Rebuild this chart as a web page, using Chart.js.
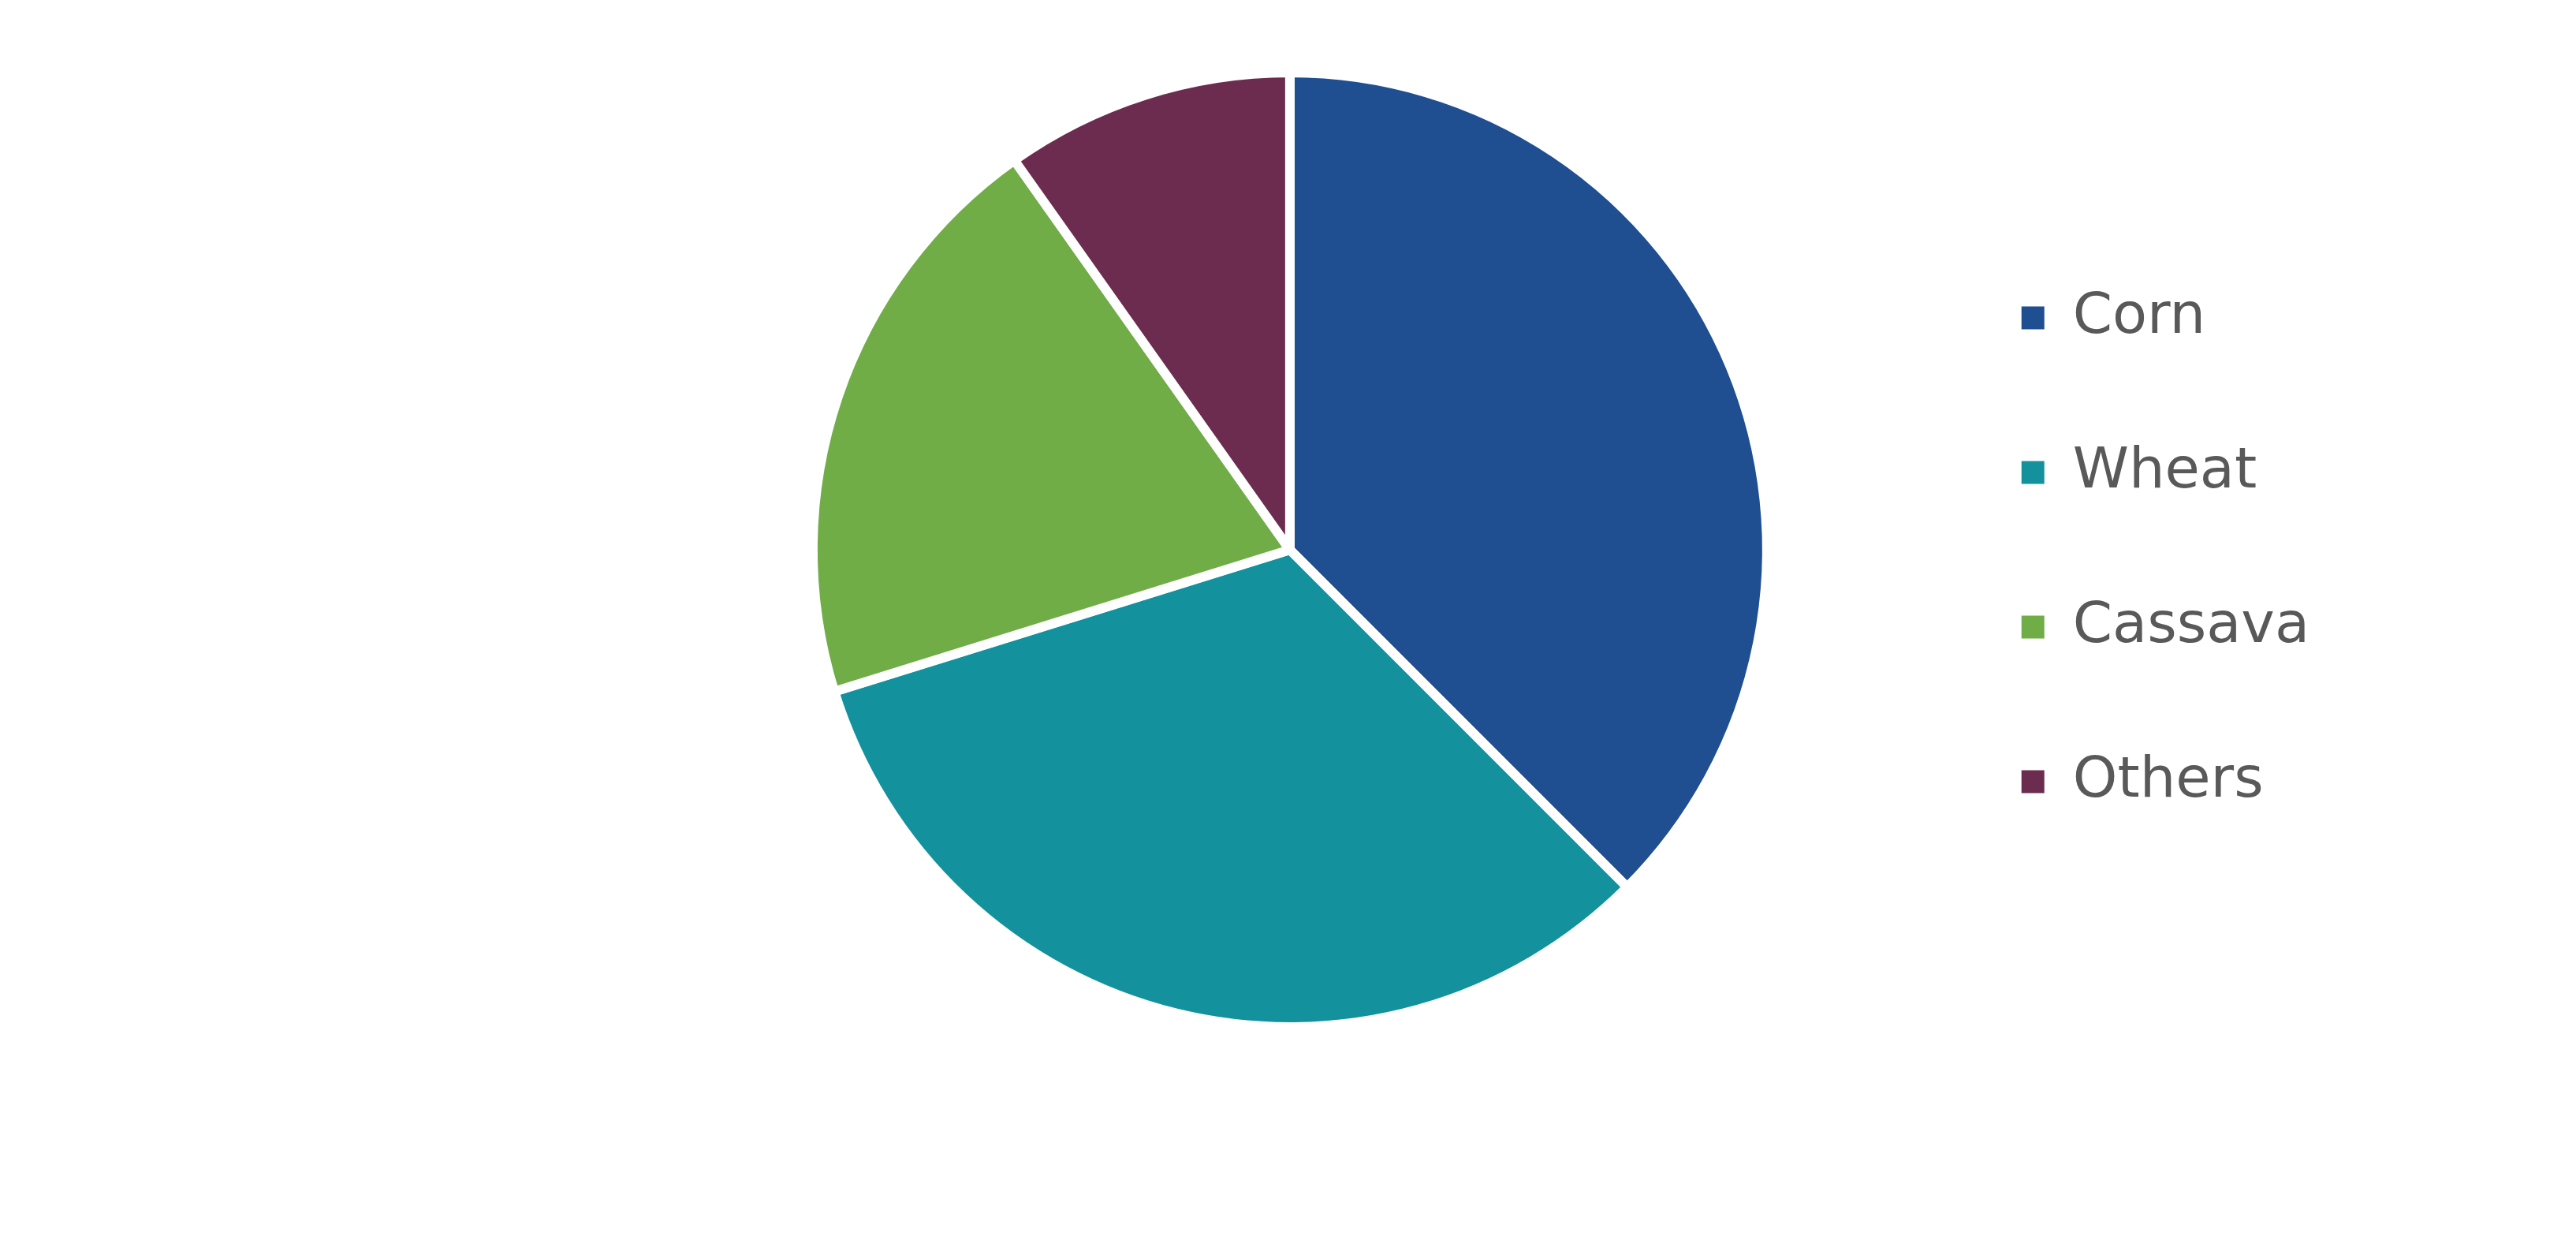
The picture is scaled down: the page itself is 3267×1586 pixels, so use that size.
<!DOCTYPE html>
<html>
<head>
<meta charset="utf-8">
<script src="https://cdn.jsdelivr.net/npm/chart.js@4/dist/chart.umd.min.js"></script>
<style>
  html, body { margin: 0; padding: 0; background: #fff; }
  #wrap { width: 3267px; height: 1586px; }
</style>
</head>
<body>
<div id="wrap"><canvas id="cropChart"></canvas></div>
<script>
const labels = ['Corn', 'Wheat', 'Cassava', 'Others'];
const shares = [37.5, 32.7, 20.0, 9.8];
const colors = ['#1F4E91', '#13929E', '#70AD47', '#6B2C4F'];

function pieChart() {
  const canvas = document.getElementById('cropChart');

  const data = {
    labels: labels,
    datasets: [{
      data: shares,
      backgroundColor: colors,
      borderColor: '#ffffff',
      borderWidth: 12
    }]
  };

  const config = {
    type: 'pie',
    data: data,
    options: {
      responsive: true,
      maintainAspectRatio: false,
      animation: false,
      layout: {
        padding: { top: 86, bottom: 278, left: 832, right: 328 }
      },
      plugins: {
        legend: {
          display: true,
          position: 'right',
          align: 'center',
          labels: {
            boxWidth: 29,
            boxHeight: 29,
            padding: 124,
            color: '#595959',
            font: { family: 'DejaVu Sans', size: 72 },
            generateLabels: function (chart) {
              // keep the white slice border off the legend squares
              const items = Chart.overrides.pie.plugins.legend.labels.generateLabels(chart);
              items.forEach(it => { it.lineWidth = 0; });
              return items;
            }
          }
        },
        tooltip: { enabled: false }
      }
    }
  };

  new Chart(canvas, config);
}

pieChart()
</script>
</body>
</html>
